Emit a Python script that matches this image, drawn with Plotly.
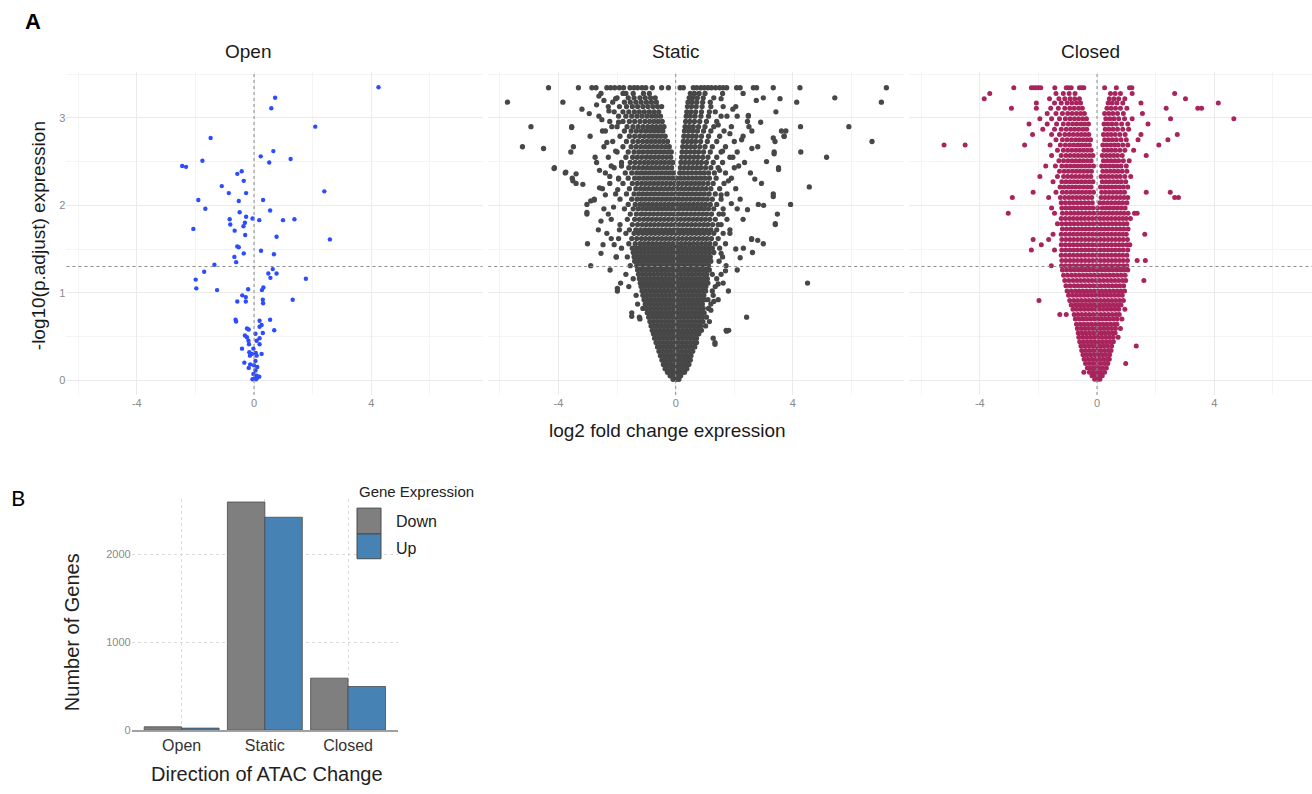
import plotly.graph_objects as go

W, H = 1312, 794

# ---------------- DATA ----------------
facets = ["Open", "Static", "Closed"]
x_ticks = [-4, 0, 4]
y_ticks = [0, 1, 2, 3]
padj_cutoff = 1.3  # -log10(0.05)

open_x = [4.25, 0.72, 0.59, 2.09, -1.48, 0.66, 0.23, 0.52, 1.25, -1.76, -2.45, -2.32, -0.57, -0.42,
          -0.35, -1.10, -0.86, -0.27, 2.40, -1.90, -0.52, 0.31, -1.66, 0.55, -0.49, -0.27, -0.05,
          -0.83, 0.18, 0.99, 1.38, -0.81, -0.31, -0.36, -2.07, -0.66, -0.30, 0.77, 2.59, -0.57,
          -0.52, 0.24, -0.35, 0.68, -0.67, -0.61, -1.35, 0.64, -1.70, 0.49, 0.77, 0.56, -1.99,
          1.77, -1.97, -1.26, -0.20, 0.32, 0.27, -0.40, -0.28, -0.57, -0.28, 0.30, 0.31, 1.32,
          -0.63, -0.61, 0.19, 0.55, 0.26, 0.19, 0.69, -0.24, -0.18, 0.05, 0.30, -0.31, -0.24,
          0.19, -0.19, 0.09, -0.17, 0.19, -0.41, -0.02, -0.16, -0.07, 0.06, 0.26, -0.14, 0.09,
          -0.33, -0.13, 0.05, -0.18, 0.00, 0.11, 0.05, -0.02, 0.09, 0.18, 0.03, -0.05, 0.11, 0.07]
open_y = [3.35, 3.23, 3.11, 2.90, 2.77, 2.62, 2.56, 2.49, 2.53, 2.51, 2.45, 2.44, 2.36, 2.39,
          2.28, 2.22, 2.14, 2.14, 2.16, 2.06, 2.05, 2.06, 1.96, 1.94, 1.92, 1.87, 1.85,
          1.84, 1.83, 1.83, 1.84, 1.78, 1.80, 1.76, 1.73, 1.71, 1.66, 1.64, 1.61, 1.53,
          1.52, 1.48, 1.45, 1.44, 1.41, 1.35, 1.32, 1.27, 1.24, 1.22, 1.22, 1.17, 1.15,
          1.16, 1.05, 1.03, 1.04, 1.06, 1.03, 0.97, 0.95, 0.90, 0.90, 0.92, 0.88, 0.92,
          0.69, 0.67, 0.68, 0.69, 0.63, 0.61, 0.57, 0.59, 0.58, 0.53, 0.54, 0.51, 0.49,
          0.48, 0.45, 0.45, 0.41, 0.41, 0.36, 0.36, 0.32, 0.30, 0.31, 0.30, 0.28, 0.28,
          0.20, 0.18, 0.22, 0.14, 0.17, 0.15, 0.11, 0.07, 0.05, 0.04, 0.02, 0.01, 0.03, 0.01]

# Static: rows of (-log10 p.adjust, [log2 fold changes])
static_rows = [
    (0.01, [-0.09, 0.02, 0.11]),
    (0.05, [-0.19, -0.07, 0.05, 0.17]),
    (0.09, [-0.28, -0.15, -0.03, 0.09, 0.21, 0.30]),
    (0.13, [-0.36, -0.23, -0.10, 0.03, 0.16, 0.28, 0.38]),
    (0.18, [-0.42, -0.30, -0.17, -0.04, 0.09, 0.22, 0.34, 0.45]),
    (0.23, [-0.47, -0.35, -0.22, -0.09, 0.04, 0.17, 0.30, 0.42, 0.50]),
    (0.28, [-0.52, -0.39, -0.26, -0.13, 0.00, 0.13, 0.26, 0.39, 0.52]),
    (0.33, [-0.57, -0.44, -0.31, -0.18, -0.05, 0.08, 0.21, 0.34, 0.47, 0.58]),
    (0.38, [-0.62, -0.49, -0.36, -0.23, -0.10, 0.03, 0.16, 0.29, 0.42, 0.55, 0.65]),
    (0.43, [-0.67, -0.54, -0.41, -0.28, -0.15, -0.02, 0.11, 0.24, 0.37, 0.50, 0.63, 0.71, 1.34]),
    (0.48, [-0.72, -0.59, -0.46, -0.33, -0.20, -0.07, 0.06, 0.19, 0.32, 0.45, 0.58, 0.71, 1.28]),
    (0.53, [-0.76, -0.63, -0.50, -0.37, -0.24, -0.11, 0.02, 0.15, 0.28, 0.41, 0.54, 0.67, 0.79]),
    (0.57, [-0.80, -0.67, -0.54, -0.41, -0.28, -0.15, -0.02, 0.11, 0.24, 0.37, 0.50, 0.63, 0.76, 0.88, 1.72, 1.81]),
    (0.62, [-0.84, -0.71, -0.58, -0.45, -0.32, -0.19, -0.06, 0.07, 0.20, 0.33, 0.46, 0.59, 0.72, 0.85, 1.02]),
    (0.67, [-0.88, -0.75, -0.62, -0.49, -0.36, -0.23, -0.10, 0.03, 0.16, 0.29, 0.42, 0.55, 0.68, 0.81, 0.93, 1.15]),
    (0.72, [-1.24, -0.92, -0.79, -0.66, -0.53, -0.40, -0.27, -0.14, -0.01, 0.12, 0.25, 0.38, 0.51, 0.64, 0.77, 0.90, 1.05, 2.42]),
    (0.77, [-1.50, -0.97, -0.84, -0.71, -0.58, -0.45, -0.32, -0.19, -0.06, 0.07, 0.20, 0.33, 0.46, 0.59, 0.72, 0.85, 0.97]),
    (0.82, [-1.12, -1.00, -0.87, -0.74, -0.61, -0.48, -0.35, -0.22, -0.09, 0.04, 0.17, 0.30, 0.43, 0.56, 0.69, 0.82, 0.94, 1.12]),
    (0.87, [-1.30, -1.04, -0.91, -0.78, -0.65, -0.52, -0.39, -0.26, -0.13, 0.00, 0.13, 0.26, 0.39, 0.52, 0.65, 0.78, 0.91, 1.20]),
    (0.92, [-1.08, -0.95, -0.82, -0.69, -0.56, -0.43, -0.30, -0.17, -0.04, 0.09, 0.22, 0.35, 0.48, 0.61, 0.74, 0.87, 0.98, 1.10]),
    (0.97, [-1.35, -1.12, -0.99, -0.86, -0.73, -0.60, -0.47, -0.34, -0.21, -0.08, 0.05, 0.18, 0.31, 0.44, 0.57, 0.70, 0.83, 0.96, 1.28]),
    (1.02, [-1.99, -1.15, -1.02, -0.89, -0.76, -0.63, -0.50, -0.37, -0.24, -0.11, 0.02, 0.15, 0.28, 0.41, 0.54, 0.67, 0.80, 0.93, 1.02, 1.25]),
    (1.07, [-1.60, -1.18, -1.05, -0.92, -0.79, -0.66, -0.53, -0.40, -0.27, -0.14, -0.01, 0.12, 0.25, 0.38, 0.51, 0.64, 0.77, 0.90, 1.03, 1.35]),
    (1.11, [-1.88, -1.21, -1.08, -0.95, -0.82, -0.69, -0.56, -0.43, -0.30, -0.17, -0.04, 0.09, 0.22, 0.35, 0.48, 0.61, 0.74, 0.87, 0.99, 1.10, 1.62, 4.50]),
    (1.16, [-1.45, -1.24, -1.11, -0.98, -0.85, -0.72, -0.59, -0.46, -0.33, -0.20, -0.07, 0.06, 0.19, 0.32, 0.45, 0.58, 0.71, 0.84, 0.97, 1.08, 1.40]),
    (1.21, [-1.70, -1.27, -1.14, -1.01, -0.88, -0.75, -0.62, -0.49, -0.36, -0.23, -0.10, 0.03, 0.16, 0.29, 0.42, 0.55, 0.68, 0.81, 0.94, 1.06, 1.25, 1.55]),
    (1.26, [-2.24, -1.30, -1.17, -1.04, -0.91, -0.78, -0.65, -0.52, -0.39, -0.26, -0.13, 0.00, 0.13, 0.26, 0.39, 0.52, 0.65, 0.78, 0.91, 1.04, 1.15, 2.10]),
    (1.31, [-2.90, -1.55, -1.33, -1.20, -1.07, -0.94, -0.81, -0.68, -0.55, -0.42, -0.29, -0.16, -0.03, 0.10, 0.23, 0.36, 0.49, 0.62, 0.75, 0.88, 1.01, 1.12, 1.72]),
    (1.36, [-1.40, -1.27, -1.14, -1.01, -0.88, -0.75, -0.62, -0.49, -0.36, -0.23, -0.10, 0.03, 0.16, 0.29, 0.42, 0.55, 0.68, 0.81, 0.94, 1.07, 1.20, 1.48]),
    (1.41, [-2.03, -1.65, -1.42, -1.29, -1.16, -1.03, -0.90, -0.77, -0.64, -0.51, -0.38, -0.25, -0.12, 0.01, 0.14, 0.27, 0.40, 0.53, 0.66, 0.79, 0.92, 1.05, 1.18, 1.60]),
    (1.46, [-1.45, -1.32, -1.19, -1.06, -0.93, -0.80, -0.67, -0.54, -0.41, -0.28, -0.15, -0.02, 0.11, 0.24, 0.37, 0.50, 0.63, 0.76, 0.89, 1.02, 1.15, 1.30, 2.62]),
    (1.51, [-1.85, -1.48, -1.35, -1.22, -1.09, -0.96, -0.83, -0.70, -0.57, -0.44, -0.31, -0.18, -0.05, 0.08, 0.21, 0.34, 0.47, 0.60, 0.73, 0.86, 0.99, 1.12, 1.25, 1.50, 2.31]),
    (1.56, [-3.01, -1.60, -1.38, -1.22, -1.08, -0.94, -0.80, -0.66, -0.52, -0.38, -0.24, -0.10, 0.04, 0.18, 0.32, 0.46, 0.60, 0.74, 0.88, 1.02, 1.16, 1.35, 1.70, 2.99]),
    (1.62, [-1.95, -1.50, -1.33, -1.17, -1.03, -0.89, -0.75, -0.61, -0.47, -0.33, -0.19, -0.05, 0.09, 0.23, 0.37, 0.51, 0.65, 0.79, 0.93, 1.07, 1.22, 1.45, 2.59]),
    (1.68, [-2.35, -1.70, -1.42, -1.27, -1.12, -0.98, -0.84, -0.70, -0.56, -0.42, -0.28, -0.14, 0.00, 0.14, 0.28, 0.42, 0.56, 0.70, 0.84, 0.98, 1.13, 1.30, 1.62]),
    (1.72, [-2.64, -1.58, -1.36, -1.20, -1.05, -0.91, -0.77, -0.63, -0.49, -0.35, -0.21, -0.07, 0.07, 0.21, 0.35, 0.49, 0.63, 0.77, 0.91, 1.05, 1.20, 1.40, 1.85]),
    (1.78, [-1.90, -1.48, -1.30, -1.14, -1.00, -0.86, -0.72, -0.58, -0.44, -0.30, -0.16, -0.02, 0.12, 0.26, 0.40, 0.54, 0.68, 0.82, 0.96, 1.10, 1.26, 1.55, 3.40]),
    (1.84, [-2.20, -1.65, -1.40, -1.24, -1.09, -0.95, -0.81, -0.67, -0.53, -0.39, -0.25, -0.11, 0.03, 0.17, 0.31, 0.45, 0.59, 0.73, 0.87, 1.01, 1.16, 1.35, 1.75, 2.30]),
    (1.90, [-3.03, -1.55, -1.34, -1.18, -1.04, -0.90, -0.76, -0.62, -0.48, -0.34, -0.20, -0.06, 0.08, 0.22, 0.36, 0.50, 0.64, 0.78, 0.92, 1.06, 1.22, 1.48, 3.47]),
    (1.96, [-2.45, -1.75, -1.45, -1.28, -1.13, -0.99, -0.85, -0.71, -0.57, -0.43, -0.29, -0.15, -0.01, 0.13, 0.27, 0.41, 0.55, 0.69, 0.83, 0.97, 1.12, 1.30, 1.62, 2.10]),
    (2.01, [-3.03, -1.62, -1.38, -1.22, -1.08, -0.94, -0.80, -0.66, -0.52, -0.38, -0.24, -0.10, 0.04, 0.18, 0.32, 0.46, 0.60, 0.74, 0.88, 1.02, 1.18, 1.40, 2.82, 3.92]),
    (2.07, [-2.78, -1.90, -1.50, -1.32, -1.17, -1.03, -0.89, -0.75, -0.61, -0.47, -0.33, -0.19, -0.05, 0.09, 0.23, 0.37, 0.51, 0.65, 0.79, 0.93, 1.08, 1.25, 1.55, 2.20]),
    (2.13, [-2.05, -1.68, -1.42, -1.26, -1.12, -0.98, -0.84, -0.70, -0.56, -0.42, -0.28, -0.14, 0.00, 0.14, 0.28, 0.42, 0.56, 0.70, 0.84, 0.98, 1.14, 1.35, 1.75, 3.33]),
    (2.19, [-2.50, -1.58, -1.36, -1.20, -1.06, -0.92, -0.78, -0.64, -0.50, -0.36, -0.22, -0.08, 0.06, 0.20, 0.34, 0.48, 0.62, 0.76, 0.90, 1.04, 1.20, 1.50, 2.05]),
    (2.25, [-3.40, -2.25, -1.80, -1.48, -1.31, -1.16, -1.02, -0.88, -0.74, -0.60, -0.46, -0.32, -0.18, -0.04, 0.10, 0.24, 0.38, 0.52, 0.66, 0.80, 0.94, 1.10, 1.28, 1.65, 2.93]),
    (2.31, [-3.53, -1.95, -1.62, -1.40, -1.25, -1.10, -0.96, -0.82, -0.68, -0.54, -0.40, -0.26, -0.12, 0.02, 0.16, 0.30, 0.44, 0.58, 0.72, 0.86, 1.00, 1.15, 1.38, 1.90]),
    (2.37, [-3.77, -2.40, -1.72, -1.50, -1.33, -1.18, -1.04, -0.90, -0.76, -0.62, -0.48, -0.34, -0.20, -0.08, 0.14, 0.26, 0.40, 0.54, 0.68, 0.82, 0.96, 1.12, 1.32, 1.70, 2.55]),
    (2.43, [-4.14, -2.10, -1.60, -1.43, -1.27, -1.12, -0.98, -0.84, -0.70, -0.56, -0.42, -0.28, -0.14, 0.16, 0.30, 0.44, 0.58, 0.72, 0.86, 1.02, 1.20, 1.45, 2.00, 3.51]),
    (2.49, [-2.70, -1.85, -1.55, -1.38, -1.22, -1.07, -0.93, -0.79, -0.65, -0.51, -0.37, -0.23, -0.10, 0.18, 0.32, 0.46, 0.60, 0.74, 0.88, 1.05, 1.28, 1.60, 2.35]),
    (2.55, [-2.30, -1.70, -1.47, -1.31, -1.16, -1.01, -0.87, -0.73, -0.59, -0.45, -0.31, -0.17, 0.20, 0.34, 0.48, 0.62, 0.76, 0.92, 1.10, 1.40, 1.85, 5.15]),
    (2.61, [-3.58, -2.00, -1.62, -1.42, -1.26, -1.11, -0.96, -0.82, -0.68, -0.54, -0.40, -0.26, -0.15, 0.22, 0.36, 0.50, 0.64, 0.78, 0.95, 1.18, 1.55, 2.10, 3.36, 4.27]),
    (2.67, [-5.23, -3.49, -2.45, -1.80, -1.52, -1.35, -1.19, -1.04, -0.90, -0.76, -0.62, -0.48, -0.34, -0.22, 0.24, 0.38, 0.52, 0.66, 0.82, 1.00, 1.25, 1.70, 2.80]),
    (2.73, [-2.15, -1.68, -1.46, -1.29, -1.13, -0.98, -0.84, -0.70, -0.56, -0.42, -0.28, 0.26, 0.40, 0.54, 0.68, 0.85, 1.08, 1.40, 2.00, 3.39, 6.70]),
    (2.79, [-2.92, -1.90, -1.58, -1.40, -1.23, -1.07, -0.92, -0.78, -0.64, -0.50, -0.36, 0.28, 0.42, 0.56, 0.70, 0.88, 1.12, 1.50, 2.30, 3.70]),
    (2.85, [-2.50, -1.75, -1.52, -1.34, -1.17, -1.01, -0.86, -0.72, -0.58, -0.44, 0.30, 0.44, 0.58, 0.74, 0.95, 1.20, 1.65, 2.60, 3.61, 3.76]),
    (2.90, [-4.94, -3.55, -2.00, -1.66, -1.46, -1.28, -1.11, -0.95, -0.80, -0.66, -0.52, -0.40, 0.32, 0.46, 0.60, 0.78, 1.00, 1.30, 1.90, 4.26, 5.91]),
    (2.96, [-2.25, -1.80, -1.58, -1.40, -1.22, -1.05, -0.89, -0.74, -0.60, -0.46, 0.34, 0.48, 0.64, 0.82, 1.05, 1.40, 2.45]),
    (3.02, [-2.62, -1.95, -1.70, -1.50, -1.32, -1.15, -0.98, -0.82, -0.67, -0.52, 0.36, 0.50, 0.66, 0.86, 1.12, 1.55, 2.10, 2.48]),
    (3.07, [-2.10, -1.80, -1.60, -1.41, -1.24, -1.07, -0.90, -0.74, -0.58, 0.38, 0.52, 0.68, 0.88, 1.15, 1.35, 3.42]),
    (3.13, [-2.30, -1.92, -1.68, -1.48, -1.30, -1.12, -0.95, -0.78, -0.62, -0.48, 0.40, 0.54, 0.70, 0.90, 1.20, 1.62, 2.05]),
    (3.18, [-5.74, -3.85, -2.15, -1.75, -1.55, -1.36, -1.18, -1.00, -0.83, -0.66, 0.42, 0.56, 0.72, 0.92, 1.18, 4.13, 7.02]),
    (3.23, [-2.00, -1.62, -1.42, -1.22, -1.04, -0.86, -0.70, 0.46, 0.58, 0.74, 0.94, 1.30, 2.99, 5.43]),
    (3.28, [-2.55, -1.80, -1.45, -1.10, -0.90, 0.50, 0.64, 0.80, 1.00, 1.60, 2.30]),
    (3.345, [-4.34, -3.32, -2.86, -2.72, -2.35, -2.22, -2.08, -1.92, -1.78, -1.56, -1.42, -1.30, -1.15, -1.02,
             -0.80, -0.48, -0.25, 0.15, 0.26, 0.60, 0.72, 0.86, 0.98, 1.10, 1.22, 1.36, 1.50, 1.62, 1.74,
             2.08, 2.20, 2.65, 2.76, 3.33, 4.24, 7.19]),
]
# Static: scattered genes outside the dense core, as (log2 FC, -log10 p.adjust)
static_scatter = [
    (-2.90, 2.05), (-2.60, 2.20), (-2.20, 2.45), (-2.75, 2.55), (-2.40, 2.85), (-2.95, 3.05), (-2.70, 3.15),
    (-3.20, 3.10), (-2.10, 1.55), (-2.30, 1.90), (-1.95, 2.30), (-2.55, 1.45), (2.20, 1.40), (2.45, 1.95),
    (2.70, 2.30), (2.60, 2.65), (2.90, 2.95), (2.50, 2.90), (2.75, 3.20), (3.10, 2.50), (3.00, 2.00),
    (2.25, 2.75), (1.95, 3.10), (2.15, 2.45), (3.56, 3.22), (2.80, 1.60), (-3.51, 2.28), (-3.17, 2.24),
    (-3.55, 2.89), (-4.15, 2.42), (-3.75, 2.38), (-4.51, 2.65), (2.48, 3.03), (3.33, 2.77), (3.70, 2.79),
    (3.36, 2.59), (3.51, 2.41), (3.33, 2.10), (3.40, 1.79), (4.56, 2.21), (-3.03, 1.92), (-2.78, 2.06),
    (-3.40, 2.36), (-2.03, 1.41), (-1.99, 1.05), (-1.50, 0.73), (1.74, 0.56), (1.34, 0.41), (2.59, 1.61),
    (-1.22, 0.70), (1.80, 1.02), (1.45, 0.92),
    (-2.62, 3.25), (-2.45, 3.20), (-2.28, 3.08), (-2.52, 2.98), (-2.18, 2.90), (-2.35, 2.72), (-2.05, 2.62),
    (-2.60, 2.40), (-2.25, 2.33), (-1.98, 2.18), (-2.40, 2.12), (-2.12, 1.98), (-2.55, 1.82), (-1.92, 1.72),
    (-2.20, 1.62), (-2.48, 1.55), (-1.85, 2.45), (-1.95, 2.95), (-2.05, 3.22), (-1.70, 3.28),
    (1.55, 3.22), (1.75, 3.02), (1.45, 2.92), (1.85, 2.82), (1.60, 2.62), (1.95, 2.55), (1.50, 2.40),
    (1.80, 2.28), (1.55, 2.12), (1.90, 2.02), (1.62, 1.90), (1.45, 1.78), (1.85, 1.68), (2.05, 1.50),
    (1.55, 1.45), (1.70, 1.25), (1.45, 1.10), (1.30, 0.90), (1.20, 0.80),
]

closed_rows = [
    (0.01, [-0.08, 0.02, 0.10]),
    (0.05, [-0.17, -0.05, 0.07, 0.18]),
    (0.09, [-0.45, -0.26, -0.13, 0.00, 0.13, 0.26]),
    (0.14, [-0.33, -0.20, -0.07, 0.06, 0.19, 0.32]),
    (0.19, [-0.39, -0.26, -0.13, 0.00, 0.13, 0.26, 0.37, 0.98]),
    (0.24, [-0.44, -0.31, -0.18, -0.05, 0.08, 0.21, 0.34, 0.42]),
    (0.29, [-0.48, -0.35, -0.22, -0.09, 0.04, 0.17, 0.30, 0.43]),
    (0.34, [-0.52, -0.39, -0.26, -0.13, 0.00, 0.13, 0.26, 0.39, 0.48]),
    (0.39, [-0.55, -0.42, -0.29, -0.16, -0.03, 0.10, 0.23, 0.36, 0.50, 1.34]),
    (0.44, [-0.59, -0.46, -0.33, -0.20, -0.07, 0.06, 0.19, 0.32, 0.45, 0.56]),
    (0.49, [-0.62, -0.49, -0.36, -0.23, -0.10, 0.03, 0.16, 0.29, 0.42, 0.55, 0.72]),
    (0.54, [-0.64, -0.51, -0.38, -0.25, -0.12, 0.01, 0.14, 0.27, 0.40, 0.53, 0.62]),
    (0.59, [-0.67, -0.54, -0.41, -0.28, -0.15, -0.02, 0.11, 0.24, 0.37, 0.50, 0.63, 0.80]),
    (0.64, [-0.70, -0.57, -0.44, -0.31, -0.18, -0.05, 0.08, 0.21, 0.34, 0.47, 0.60, 0.68]),
    (0.70, [-0.74, -0.61, -0.48, -0.35, -0.22, -0.09, 0.04, 0.17, 0.30, 0.43, 0.56, 0.69, 0.85]),
    (0.75, [-1.27, -1.05, -0.78, -0.65, -0.52, -0.39, -0.26, -0.13, 0.00, 0.13, 0.26, 0.39, 0.52, 0.65, 0.76]),
    (0.81, [-0.82, -0.69, -0.56, -0.43, -0.30, -0.17, -0.04, 0.09, 0.22, 0.35, 0.48, 0.61, 0.74, 0.95]),
    (0.86, [-0.88, -0.74, -0.61, -0.48, -0.35, -0.22, -0.09, 0.04, 0.17, 0.30, 0.43, 0.56, 0.69, 0.82]),
    (0.91, [-1.98, -0.93, -0.79, -0.66, -0.53, -0.40, -0.27, -0.14, -0.01, 0.12, 0.25, 0.38, 0.51, 0.64, 0.77, 0.90]),
    (0.97, [-0.97, -0.83, -0.70, -0.57, -0.44, -0.31, -0.18, -0.05, 0.08, 0.21, 0.34, 0.47, 0.60, 0.73, 0.86]),
    (1.02, [-1.02, -0.88, -0.74, -0.61, -0.48, -0.35, -0.22, -0.09, 0.04, 0.17, 0.30, 0.43, 0.56, 0.69, 0.82, 0.94]),
    (1.08, [-1.06, -0.92, -0.78, -0.65, -0.52, -0.39, -0.26, -0.13, 0.00, 0.13, 0.26, 0.39, 0.52, 0.65, 0.78, 0.91]),
    (1.14, [-1.10, -0.96, -0.82, -0.69, -0.56, -0.43, -0.30, -0.17, -0.04, 0.09, 0.22, 0.35, 0.48, 0.61, 0.74, 0.87, 0.98, 1.60]),
    (1.20, [-1.14, -1.00, -0.86, -0.73, -0.60, -0.47, -0.34, -0.21, -0.08, 0.05, 0.18, 0.31, 0.44, 0.57, 0.70, 0.83, 0.96]),
    (1.26, [-1.18, -1.04, -0.90, -0.77, -0.64, -0.51, -0.38, -0.25, -0.12, 0.01, 0.14, 0.27, 0.40, 0.53, 0.66, 0.79, 0.92, 1.05]),
    (1.31, [-1.56, -1.21, -1.07, -0.93, -0.80, -0.67, -0.54, -0.41, -0.28, -0.15, -0.02, 0.11, 0.24, 0.37, 0.50, 0.63, 0.76, 0.89, 1.02]),
    (1.37, [-1.20, -1.06, -0.92, -0.79, -0.66, -0.53, -0.40, -0.27, -0.14, -0.01, 0.12, 0.25, 0.38, 0.51, 0.64, 0.77, 0.90, 1.04, 1.37, 1.65]),
    (1.43, [-1.22, -1.08, -0.94, -0.81, -0.68, -0.55, -0.42, -0.29, -0.16, -0.03, 0.10, 0.23, 0.36, 0.49, 0.62, 0.75, 0.88, 1.02]),
    (1.49, [-2.24, -1.45, -1.20, -1.06, -0.92, -0.79, -0.66, -0.53, -0.40, -0.27, -0.14, -0.01, 0.12, 0.25, 0.38, 0.51, 0.64, 0.77, 0.90, 1.05]),
    (1.55, [-1.90, -1.22, -1.08, -0.94, -0.81, -0.68, -0.55, -0.42, -0.29, -0.16, -0.03, 0.10, 0.23, 0.36, 0.49, 0.62, 0.75, 0.88, 1.02, 1.12]),
    (1.61, [-2.18, -1.65, -1.20, -1.06, -0.92, -0.79, -0.66, -0.53, -0.40, -0.27, -0.14, -0.01, 0.12, 0.25, 0.38, 0.51, 0.64, 0.77, 0.90, 1.04]),
    (1.67, [-1.50, -1.22, -1.08, -0.94, -0.81, -0.68, -0.55, -0.42, -0.29, -0.16, -0.03, 0.10, 0.23, 0.36, 0.49, 0.62, 0.75, 0.88, 1.00, 1.63]),
    (1.73, [-1.18, -1.04, -0.90, -0.77, -0.64, -0.51, -0.38, -0.25, -0.12, 0.01, 0.14, 0.27, 0.40, 0.53, 0.66, 0.79, 0.92, 1.06]),
    (1.79, [-1.35, -1.20, -1.06, -0.92, -0.79, -0.66, -0.53, -0.40, -0.27, -0.14, -0.01, 0.12, 0.25, 0.38, 0.51, 0.64, 0.77, 0.90, 1.02]),
    (1.85, [-1.22, -1.08, -0.94, -0.81, -0.68, -0.55, -0.42, -0.29, -0.16, -0.03, 0.10, 0.23, 0.36, 0.49, 0.62, 0.75, 0.88, 1.00, 1.14]),
    (1.91, [-3.03, -1.45, -1.18, -1.04, -0.90, -0.77, -0.64, -0.51, -0.38, -0.25, -0.12, 0.01, 0.14, 0.27, 0.40, 0.53, 0.66, 0.79, 0.92, 1.06, 1.28, 1.37]),
    (1.97, [-1.55, -1.20, -1.06, -0.92, -0.79, -0.66, -0.53, -0.40, -0.27, -0.14, 0.02, 0.18, 0.31, 0.44, 0.57, 0.70, 0.83, 0.96]),
    (2.03, [-1.22, -1.08, -0.94, -0.81, -0.68, -0.55, -0.42, -0.29, -0.16, 0.10, 0.23, 0.36, 0.49, 0.62, 0.75, 0.88, 1.02]),
    (2.09, [-2.89, -1.65, -1.25, -1.10, -0.96, -0.83, -0.70, -0.57, -0.44, -0.31, -0.18, 0.14, 0.27, 0.40, 0.53, 0.66, 0.79, 0.92, 1.05, 2.65, 2.78]),
    (2.15, [-2.18, -1.40, -1.18, -1.04, -0.90, -0.77, -0.64, -0.51, -0.38, -0.25, -0.12, 0.16, 0.29, 0.42, 0.55, 0.68, 0.81, 0.94, 1.68, 2.50]),
    (2.21, [-1.26, -1.12, -0.98, -0.85, -0.72, -0.59, -0.46, -0.33, -0.20, 0.12, 0.25, 0.38, 0.51, 0.64, 0.77, 0.90, 1.05]),
    (2.27, [-1.50, -1.20, -1.06, -0.92, -0.79, -0.66, -0.53, -0.40, -0.27, -0.14, 0.18, 0.31, 0.44, 0.57, 0.70, 0.83, 0.98]),
    (2.33, [-1.95, -1.35, -1.14, -1.00, -0.86, -0.73, -0.60, -0.47, -0.34, -0.21, 0.14, 0.27, 0.40, 0.53, 0.66, 0.79, 0.95, 1.15]),
    (2.39, [-1.28, -1.12, -0.98, -0.84, -0.71, -0.58, -0.45, -0.32, -0.19, 0.20, 0.33, 0.46, 0.59, 0.72, 0.86, 1.02]),
    (2.45, [-1.75, -1.42, -1.20, -1.05, -0.91, -0.78, -0.65, -0.52, -0.39, -0.26, -0.12, 0.16, 0.29, 0.42, 0.55, 0.68, 0.82, 1.00]),
    (2.51, [-1.30, -1.14, -0.99, -0.85, -0.72, -0.59, -0.46, -0.33, -0.20, 0.22, 0.35, 0.48, 0.61, 0.74, 0.90, 1.10]),
    (2.57, [-1.55, -1.22, -1.06, -0.92, -0.78, -0.65, -0.52, -0.39, -0.26, -0.14, 0.18, 0.31, 0.44, 0.57, 0.70, 0.86, 1.68]),
    (2.63, [-1.35, -1.15, -1.00, -0.86, -0.72, -0.59, -0.46, -0.33, -0.20, 0.24, 0.37, 0.50, 0.63, 0.78, 0.95, 1.25]),
    (2.69, [-5.22, -4.50, -2.47, -1.60, -1.25, -1.08, -0.93, -0.79, -0.65, -0.52, -0.39, -0.26, 0.20, 0.33, 0.46, 0.59, 0.72, 0.88, 1.05, 2.11]),
    (2.75, [-1.40, -1.18, -1.02, -0.87, -0.73, -0.60, -0.47, -0.34, -0.22, 0.26, 0.39, 0.52, 0.66, 0.82, 1.00, 1.40, 2.42]),
    (2.81, [-2.20, -1.55, -1.28, -1.10, -0.95, -0.81, -0.67, -0.54, -0.41, -0.28, 0.22, 0.35, 0.48, 0.62, 0.78, 0.96, 1.50, 2.74]),
    (2.87, [-1.85, -1.45, -1.22, -1.05, -0.90, -0.76, -0.62, -0.48, -0.35, 0.28, 0.41, 0.55, 0.70, 0.88, 1.08]),
    (2.93, [-2.32, -1.70, -1.38, -1.15, -0.98, -0.83, -0.69, -0.55, -0.42, -0.29, 0.24, 0.37, 0.51, 0.66, 0.84, 1.05, 1.74]),
    (2.99, [-1.95, -1.55, -1.28, -1.08, -0.92, -0.77, -0.63, -0.49, -0.36, 0.30, 0.44, 0.58, 0.74, 0.94, 1.20, 2.51, 4.67]),
    (3.05, [-1.70, -1.40, -1.18, -1.00, -0.85, -0.70, -0.56, -0.43, 0.26, 0.40, 0.54, 0.70, 0.90, 1.55]),
    (3.11, [-2.92, -2.07, -1.58, -1.32, -1.10, -0.93, -0.78, -0.63, -0.50, 0.34, 0.48, 0.63, 0.80, 1.02, 2.36, 3.44, 3.57]),
    (3.17, [-2.07, -1.45, -1.22, -1.02, -0.86, -0.70, -0.56, 0.38, 0.52, 0.68, 0.88, 1.50, 4.14]),
    (3.22, [-3.85, -1.62, -1.30, -1.10, -0.92, -0.76, -0.60, 0.42, 0.58, 0.74, 0.95, 3.02]),
    (3.28, [-3.66, -1.40, -1.15, -0.95, -0.75, 0.46, 0.62, 0.80, 1.20, 2.65]),
    (3.345, [-2.84, -2.24, -2.16, -2.08, -2.00, -1.92, -1.44, -1.05, -0.97, -0.88, -0.60, -0.52, -0.45,
             0.26, 0.66, 1.11, 1.19]),
]

# Panel B: number of genes
atac_change = ["Open", "Static", "Closed"]
down_counts = [38, 2593, 591]
up_counts = [23, 2420, 496]
b_yticks = [0, 1000, 2000]

# ---------------- helpers ----------------
def flatten(rows):
    xs, ys = [], []
    for yv, row in rows:
        for xv in row:
            xs.append(xv)
            ys.append(yv)
    return xs, ys

static_x, static_y = flatten(static_rows)
static_x += [p[0] for p in static_scatter]
static_y += [p[1] for p in static_scatter]
closed_x, closed_y = flatten(closed_rows)

def px(x):
    return x / W

def py(y):
    return 1 - y / H

FONT = "Liberation Sans, Arial, sans-serif"
colors = {"Open": "#2B4CFF", "Static": "#474747", "Closed": "#A8245D"}
msize = {"Open": 4.4, "Static": 5.3, "Closed": 5.0}
data_by_facet = {"Open": (open_x, open_y), "Static": (static_x, static_y), "Closed": (closed_x, closed_y)}

# panel geometry (pixels)
x_unit = 29.3
zero_px = {"Open": 254.0, "Static": 675.7, "Closed": 1097.0}
x_lo = -6.4
x_hi = {"Open": 7.8, "Static": 7.8, "Closed": (W - 1097.0) / x_unit}
y_range = [-0.17, 3.52]
y_dom = [py(398), py(73)]

fig = go.Figure()
layout = dict(
    width=W, height=H, margin=dict(l=0, r=0, t=0, b=0),
    paper_bgcolor="white", plot_bgcolor="white", showlegend=False,
    font=dict(family=FONT, color="#222"),
)
shapes = []
annotations = []

for i, f in enumerate(facets):
    n = "" if i == 0 else str(i + 1)
    xs, ys = data_by_facet[f]
    fig.add_trace(go.Scatter(
        x=xs, y=ys, mode="markers", xaxis="x" + n, yaxis="y" + n,
        marker=dict(size=msize[f], color=colors[f], line=dict(width=0)),
        hoverinfo="skip", name=f,
    ))
    left = zero_px[f] + x_lo * x_unit
    right = zero_px[f] + x_hi[f] * x_unit
    layout["xaxis" + n] = dict(
        domain=[px(left), min(1.0, px(right))], range=[x_lo, x_hi[f]],
        tickvals=x_ticks, ticktext=[str(t) for t in x_ticks],
        showgrid=True, gridcolor="#EBEBEB", gridwidth=1,
        minor=dict(dtick=2, tick0=0, showgrid=True, gridcolor="#F4F4F4", gridwidth=1),
        zeroline=False, showline=False, ticks="", anchor="y" + n,
        tickfont=dict(size=11, color="#8A8A8A"), fixedrange=True,
    )
    layout["yaxis" + n] = dict(
        domain=y_dom, range=y_range, tickvals=y_ticks,
        showticklabels=(i == 0),
        showgrid=True, gridcolor="#EBEBEB", gridwidth=1,
        minor=dict(dtick=0.5, tick0=0, showgrid=True, gridcolor="#F4F4F4", gridwidth=1),
        zeroline=False, showline=False, ticks="", anchor="x" + n,
        tickfont=dict(size=11, color="#8A8A8A"), fixedrange=True,
    )
    shapes.append(dict(type="line", xref="x" + n, yref="y" + n + " domain", x0=0, x1=0, y0=0, y1=1,
                       line=dict(color="#8C8C8C", width=1, dash="dot"), layer="above"))
    shapes.append(dict(type="line", xref="x" + n + " domain", yref="y" + n, x0=0, x1=1,
                       y0=padj_cutoff, y1=padj_cutoff,
                       line=dict(color="#8C8C8C", width=1, dash="dot"), layer="above"))

title_px = {"Open": 248, "Static": 676, "Closed": 1090}
for f in facets:
    annotations.append(dict(text=f, x=px(title_px[f]), y=py(52), xref="paper", yref="paper",
                            showarrow=False, xanchor="center", yanchor="middle",
                            font=dict(size=19, color="#1A1A1A", family=FONT)))

annotations += [
    dict(text="<b>A</b>", x=px(33), y=py(22), xref="paper", yref="paper", showarrow=False,
         xanchor="center", yanchor="middle", font=dict(size=22, color="black", family=FONT)),
    dict(text="-log10(p.adjust) expression", x=px(38), y=py(238), xref="paper", yref="paper",
         showarrow=False, textangle=-90, xanchor="center", yanchor="middle",
         font=dict(size=19, color="#1A1A1A", family=FONT)),
    dict(text="log2 fold change expression", x=px(667), y=py(434), xref="paper", yref="paper",
         showarrow=False, xanchor="center", yanchor="middle",
         font=dict(size=19, color="#1A1A1A", family=FONT)),
]

# ---------------- Panel B ----------------
fig.add_trace(go.Bar(x=atac_change, y=down_counts, name="Down", xaxis="x4", yaxis="y4",
                     marker=dict(color="#7F7F7F", line=dict(color="#4A4A4A", width=0.8)),
                     hoverinfo="skip"))
fig.add_trace(go.Bar(x=atac_change, y=up_counts, name="Up", xaxis="x4", yaxis="y4",
                     marker=dict(color="#4682B4", line=dict(color="#4A4A4A", width=0.8)),
                     hoverinfo="skip"))

layout["barmode"] = "group"
layout["bargap"] = 0.1
layout["bargroupgap"] = 0.0
layout["xaxis4"] = dict(
    domain=[px(131.7), px(398)], range=[-0.6, 2.6], anchor="y4",
    categoryorder="array", categoryarray=atac_change,
    showgrid=True, gridcolor="#DADADA", griddash="3px,3px", gridwidth=1,
    showline=True, linecolor="#A0A0A0", linewidth=1.5, ticks="",
    tickfont=dict(size=16, color="#333333", family=FONT), zeroline=False, fixedrange=True,
)
layout["yaxis4"] = dict(
    domain=[py(735.7), py(503)], range=[0, 2625], anchor="x4", tickvals=b_yticks,
    showgrid=True, gridcolor="#DADADA", griddash="3px,3px", gridwidth=1,
    zeroline=False, showline=False, ticks="",
    tickfont=dict(size=11, color="#8A8A8A", family=FONT), fixedrange=True,
)

annotations += [
    dict(text="B", x=px(18), y=py(501), xref="paper", yref="paper", showarrow=False,
         xanchor="center", yanchor="middle", font=dict(size=22, color="black", family="Lato, sans-serif")),
    dict(text="Number of Genes", x=px(72), y=py(637), xref="paper", yref="paper", showarrow=False,
         textangle=-90, xanchor="center", yanchor="middle", font=dict(size=20, color="#222", family=FONT)),
    dict(text="Direction of ATAC Change", x=px(267), y=py(780), xref="paper", yref="paper",
         showarrow=False, xanchor="center", yanchor="middle", font=dict(size=20, color="#222", family=FONT)),
    dict(text="Gene Expression", x=px(357), y=py(495), xref="paper", yref="paper", showarrow=False,
         xanchor="left", yanchor="middle", font=dict(size=15, color="#222", family=FONT)),
    dict(text="Down", x=px(394), y=py(525), xref="paper", yref="paper", showarrow=False,
         xanchor="left", yanchor="middle", font=dict(size=16, color="#222", family=FONT)),
    dict(text="Up", x=px(394), y=py(553), xref="paper", yref="paper", showarrow=False,
         xanchor="left", yanchor="middle", font=dict(size=16, color="#222", family=FONT)),
]
# legend keys
shapes += [
    dict(type="rect", xref="paper", yref="paper", x0=px(357), x1=px(381), y0=py(538), y1=py(512),
         fillcolor="#7F7F7F", line=dict(color="#4A4A4A", width=1)),
    dict(type="rect", xref="paper", yref="paper", x0=px(357), x1=px(381), y0=py(563), y1=py(538),
         fillcolor="#4682B4", line=dict(color="#4A4A4A", width=1)),
]

layout["shapes"] = shapes
layout["annotations"] = annotations
fig.update_layout(**layout)
fig.write_html("out.html", config={"displayModeBar": False},
               post_script="document.body.style.margin='0';document.body.style.overflow='hidden';")
